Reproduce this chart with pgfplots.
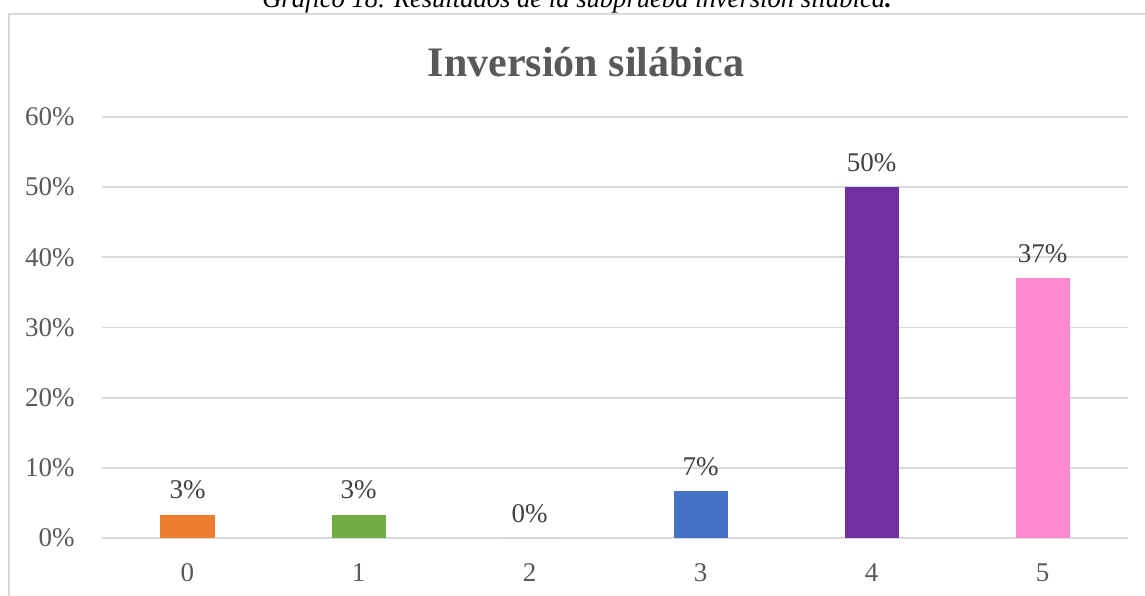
\documentclass[border=0pt]{standalone}
\usepackage{fontspec}
\setmainfont{Liberation Serif}
\usepackage{pgfplots}
\pgfplotsset{compat=1.18}
\definecolor{gridc}{HTML}{D9D9D9}
\definecolor{tickc}{HTML}{595959}
\definecolor{labc}{HTML}{404040}
\definecolor{c0}{HTML}{ED7D31}
\definecolor{c1}{HTML}{70AD47}
\definecolor{c2}{HTML}{A5A5A5}
\definecolor{c3}{HTML}{4472C4}
\definecolor{c4}{HTML}{7030A0}
\definecolor{c5}{HTML}{FF89CE}
\begin{document}
\begin{tikzpicture}
\useasboundingbox (-51pt,-28.5pt) rectangle (521.5pt,269pt);
\draw[gridc, line width=0.9pt] (-46.5pt,-40pt) -- (-46.5pt,261.8pt) -- (540pt,261.8pt);
\node[anchor=base, font=\itshape\fontsize{13.3}{15}\selectfont, text=black] at (237.5pt,265pt) {Gráfico 18. Resultados de la subprueba inversión silábica\textbf{.}};
\node[anchor=base, font=\bfseries\fontsize{21}{25}\selectfont, text=tickc] at (242pt,230.5pt) {Inversión silábica};
\begin{axis}[
  at={(0,0)}, anchor=south west,
  scale only axis, width=513pt, height=210.5pt,
  xmin=-0.5, xmax=5.5, ymin=0, ymax=60,
  ybar, bar width=27pt, bar shift=0pt,
  xtick={0,1,2,3,4,5}, xticklabels={0,1,2,3,4,5},
  ytick={0,10,20,30,40,50,60},
  yticklabels={0\%,10\%,20\%,30\%,40\%,50\%,60\%},
  ymajorgrids, grid style={gridc, line width=0.9pt},
  axis line style={draw=none}, major tick length=0pt,
  tick label style={font=\fontsize{13.5}{16}\selectfont, text=tickc, inner sep=0pt},
  yticklabel shift=13.5pt, xticklabel shift=12.5pt,
  point meta=explicit symbolic,
  nodes near coords,
  every node near coord/.append style={font=\fontsize{13.5}{16}\selectfont, text=labc, inner sep=0pt, yshift=7.5pt},
  clip=false,
]
\addplot[fill=c0, draw=none] coordinates {(0,3.33) [3\%]};
\addplot[fill=c1, draw=none] coordinates {(1,3.33) [3\%]};
\addplot[fill=c2, draw=none] coordinates {(2,0) [0\%]};
\addplot[fill=c3, draw=none] coordinates {(3,6.67) [7\%]};
\addplot[fill=c4, draw=none] coordinates {(4,50) [50\%]};
\addplot[fill=c5, draw=none] coordinates {(5,37) [37\%]};
\end{axis}
\end{tikzpicture}
\end{document}
